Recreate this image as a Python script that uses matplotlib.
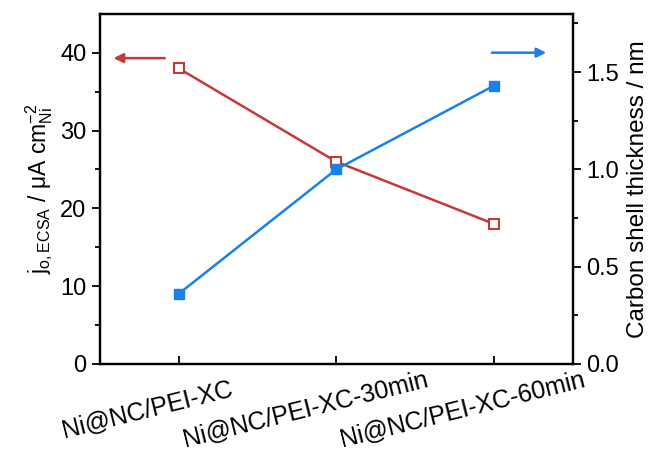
import matplotlib
matplotlib.use('Agg')
import matplotlib.pyplot as plt
import matplotlib.transforms as mtransforms
from matplotlib.ticker import FormatStrFormatter

plt.rcParams['font.family'] = ['Liberation Sans', 'DejaVu Sans']
plt.rcParams['mathtext.fontset'] = 'custom'
plt.rcParams['mathtext.rm'] = 'Liberation Sans'
plt.rcParams['mathtext.it'] = 'Liberation Sans:italic'

# data
samples = ['Ni@NC/PEI-XC', 'Ni@NC/PEI-XC-30min', 'Ni@NC/PEI-XC-60min']
j0_ecsa = [38.0, 26.0, 18.0]
shell_thickness = [0.36, 1.0, 1.43]

red = '#c8383a'
blue = '#1a80ea'

fig = plt.figure(figsize=(6.56, 4.59), dpi=100)
ax = fig.add_axes([0.152, 0.207, 0.721, 0.763])
x = list(range(len(samples)))

ax.plot(x, j0_ecsa, color=red, lw=1.8, marker='s', ms=7, mfc='white',
        mec=red, mew=1.5, zorder=3)
ax.set_xlim(-0.5, 2.5)
ax.set_ylim(0, 45)
ax.set_yticks([0, 10, 20, 30, 40])
ax.set_yticks([5, 15, 25, 35], minor=True)
ax.set_xticks(x)
ax.set_xticklabels([])
ax.tick_params(axis='x', direction='in', length=6, width=1.3)
ax.tick_params(axis='y', which='major', direction='out', length=6, width=1.3,
               labelsize=17)
ax.tick_params(axis='y', which='minor', direction='out', length=3.5, width=1.3)
ax.set_ylabel(r'j$_{\mathrm{o,ECSA}}$ / $\mathrm{\mu}$A cm$^{-2}_{\mathrm{Ni}}$',
              fontsize=16.5, labelpad=4)
for sp in ax.spines.values():
    sp.set_linewidth(1.6)

# rotated category labels, centred a little left of each tick
trans = mtransforms.blended_transform_factory(ax.transData, ax.transAxes)
shift = mtransforms.ScaledTranslation(-0.31, -0.45, fig.dpi_scale_trans)
for xi, name in zip(x, samples):
    ax.text(xi, 0, name, transform=trans + shift, rotation=14,
            rotation_mode='anchor', ha='center', va='center', fontsize=18)

ax2 = ax.twinx()
ax2.plot(x, shell_thickness, color=blue, lw=1.8, marker='s', ms=7, mfc=blue,
         mec=blue, zorder=3)
ax2.set_ylim(0, 1.8)
ax2.set_yticks([0.0, 0.5, 1.0, 1.5])
ax2.set_yticks([0.25, 0.75, 1.25, 1.75], minor=True)
ax2.yaxis.set_major_formatter(FormatStrFormatter('%.1f'))
ax2.tick_params(axis='y', which='major', direction='out', length=6, width=1.3,
                labelsize=17)
ax2.tick_params(axis='y', which='minor', direction='out', length=3.5, width=1.3)
ax2.set_ylabel('Carbon shell thickness / nm', fontsize=17.5, labelpad=6)
for sp in ax2.spines.values():
    sp.set_linewidth(1.6)

# axis indicator arrows
ax.annotate('', xy=(-0.43, 39.3), xytext=(-0.07, 39.3),
            arrowprops=dict(arrowstyle='-|>', color=red, lw=1.8,
                            mutation_scale=14))
ax2.annotate('', xy=(2.35, 1.6), xytext=(1.97, 1.6),
             arrowprops=dict(arrowstyle='-|>', color=blue, lw=1.8,
                             mutation_scale=14))

fig.savefig('out.png', dpi=100)
